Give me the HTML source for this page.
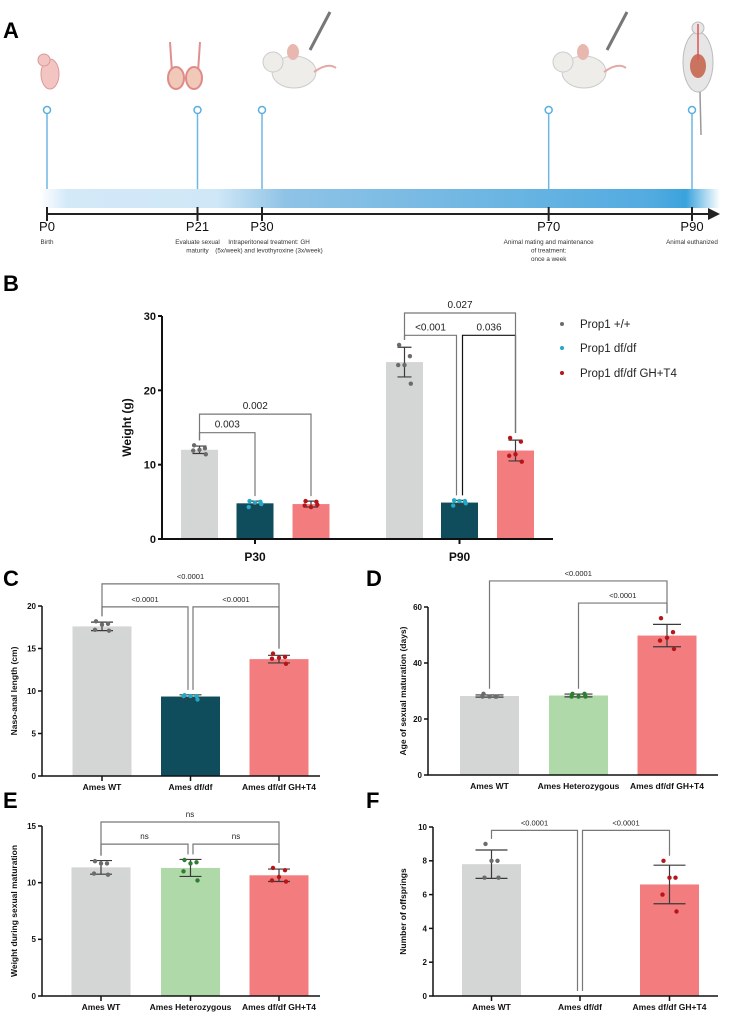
<!DOCTYPE html>
<html><head><meta charset="utf-8">
<style>
html,body{margin:0;padding:0;background:#fff;}
svg{display:block;font-family:"Liberation Sans",Arial,sans-serif;}
.bold{font-weight:bold;}
</style></head>
<body>
<svg id="fig" width="732" height="1014" viewBox="0 0 732 1014" xmlns="http://www.w3.org/2000/svg">
<defs>
<linearGradient id="band" x1="0" x2="1" y1="0" y2="0">
<stop offset="0" stop-color="#ffffff"/>
<stop offset="0.04" stop-color="#d3e9f8"/>
<stop offset="0.26" stop-color="#d0e7f7"/>
<stop offset="0.36" stop-color="#8fc3e6"/>
<stop offset="0.9" stop-color="#52abe0"/>
<stop offset="0.95" stop-color="#3aa2dc"/>
<stop offset="1" stop-color="#ffffff"/>
</linearGradient>
</defs>
<!-- Panel A -->
<g>
<text x="3" y="38" font-size="22" class="bold">A</text>
<rect x="40" y="189" width="680" height="19" fill="url(#band)"/>
<line x1="46" y1="214" x2="712" y2="214" stroke="#222" stroke-width="2"/>
<polygon points="708,208 720,214 708,220" fill="#222"/>
<!-- icons -->
<g><ellipse cx="50" cy="74" rx="9" ry="15" fill="#f2c4c2" stroke="#d99"/><circle cx="44" cy="60" r="6" fill="#f2c4c2" stroke="#d99"/></g>
<g><line x1="170" y1="42" x2="172" y2="72" stroke="#e09090" stroke-width="2"/><line x1="200" y1="42" x2="198" y2="72" stroke="#e09090" stroke-width="2"/><ellipse cx="176" cy="78" rx="8" ry="11" fill="#f0c9b8" stroke="#e08a8a" stroke-width="2"/><ellipse cx="194" cy="78" rx="8" ry="11" fill="#f0c9b8" stroke="#e08a8a" stroke-width="2"/></g>
<g><ellipse cx="294" cy="72" rx="22" ry="16" fill="#efedea" stroke="#ccc"/><circle cx="273" cy="62" r="10" fill="#efedea" stroke="#ccc"/><ellipse cx="293" cy="52" rx="6" ry="8" fill="#e8b8b0"/><path d="M314 72 q14 -10 22 -4" stroke="#e3a9a5" stroke-width="2" fill="none"/><line x1="310" y1="50" x2="330" y2="12" stroke="#777" stroke-width="3"/></g>
<g><ellipse cx="584" cy="72" rx="22" ry="16" fill="#efedea" stroke="#ccc"/><circle cx="563" cy="62" r="10" fill="#efedea" stroke="#ccc"/><ellipse cx="583" cy="52" rx="6" ry="8" fill="#e8b8b0"/><path d="M604 72 q14 -10 22 -4" stroke="#e3a9a5" stroke-width="2" fill="none"/><line x1="607" y1="50" x2="627" y2="12" stroke="#777" stroke-width="3"/></g>
<g><ellipse cx="698" cy="62" rx="15" ry="30" fill="#e6e6e6" stroke="#bbb"/><circle cx="698" cy="28" r="6" fill="#e6e6e6" stroke="#bbb"/><ellipse cx="698" cy="66" rx="8" ry="12" fill="#c8745e"/><line x1="698" y1="24" x2="698" y2="60" stroke="#d55" stroke-width="1.5"/><line x1="700" y1="92" x2="701" y2="135" stroke="#999" stroke-width="1.5"/></g>
</g>
<g id="timeline-points"></g>

<!-- panel letters -->
<text x="3" y="291" font-size="22" class="bold">B</text>
<text x="3" y="586" font-size="22" class="bold">C</text>
<text x="366" y="586" font-size="22" class="bold">D</text>
<text x="3" y="808" font-size="22" class="bold">E</text>
<text x="366" y="808" font-size="22" class="bold">F</text>

<g id="legend-b">
<circle cx="562" cy="324" r="2" fill="#6b6b6b"/>
<text x="580" y="328" font-size="11.5" fill="#222">Prop1 +/+</text>
<circle cx="562" cy="348" r="2" fill="#22a8c8"/>
<text x="580" y="352" font-size="11.5" fill="#222">Prop1 df/df</text>
<circle cx="562" cy="373" r="2" fill="#b5161c"/>
<text x="580" y="377" font-size="11.5" fill="#222">Prop1 df/df GH+T4</text>
</g>
</svg>
<script>
// ===== Timeline data =====
const tlLabels = ['P0','P21','P30','P70','P90'];
const tlDays = [0,21,30,70,90];
const tlNotes = [['Birth'],['Evaluate sexual','maturity'],['Intraperitoneal treatment: GH','(5x/week) and levothyroxine (3x/week)'],['Animal mating and maintenance','of treatment:','once a week'],['Animal euthanized']];
const tlNoteShift = [0,0,7,0,0];

// ===== Panel B data =====
const bCats = ['P30','P90'];
const bMeanWT = [12.0, 23.8];
const bMeanDf = [4.8, 4.9];
const bMeanTr = [4.7, 11.9];
const bSdWT = [0.5, 2.0];
const bSdDf = [0.3, 0.3];
const bSdTr = [0.4, 1.4];
const bPtsWT = [[12.6,12.2,12.0,11.9,11.4],[26.1,24.6,23.4,23.4,20.9]];
const bPtsDf = [[5.1,5.0,4.9,4.3,4.7],[5.2,5.1,5.1,4.5,4.8]];
const bPtsTr = [[5.1,5.0,4.3,4.5,4.6],[13.6,13.1,11.4,11.2,10.4]];
const bTicks = [0,10,20,30];
const bBrLabels = ['0.003','0.002','<0.001','0.036','0.027'];
const bBrHeights = [14.3,16.8,27.4,27.4,30.4];

// ===== Panel C data =====
const cCats = ['Ames WT','Ames df/df','Ames df/df GH+T4'];
const cMeans = [17.6, 9.35, 13.75];
const cSd = [0.5, 0.2, 0.45];
const cPts = [[18.2,17.9,17.8,17.2,17.1],[9.5,9.4,9.4,9.4,9.0],[14.4,14.0,13.9,13.8,13.2]];
const cTicks = [0,5,10,15,20];
const cBrLabels = ['<0.0001','<0.0001','<0.0001'];
const cBrHeights = [19.9,19.9,22.6];

// ===== Panel D data =====
const dCats = ['Ames WT','Ames Heterozygous','Ames df/df GH+T4'];
const dMeans = [28.2, 28.4, 49.8];
const dSd = [0.4, 0.5, 4.0];
const dPts = [[29,28,28,28,28],[29,29,28,28,28],[56,51,49,48,45]];
const dTicks = [0,20,40,60];
const dBrLabels = ['<0.0001','<0.0001'];
const dBrHeights = [61.4,69.3];

// ===== Panel E data =====
const eCats = ['Ames WT','Ames Heterozygous','Ames df/df GH+T4'];
const eMeans = [11.35, 11.3, 10.65];
const eSd = [0.6, 0.75, 0.55];
const ePts = [[11.9,11.7,11.7,10.8,10.7],[12.0,11.8,11.7,11.0,10.2],[11.3,11.1,10.5,10.2,10.1]];
const eTicks = [0,5,10,15];
const eBrLabels = ['ns','ns','ns'];
const eBrHeights = [13.4,13.4,15.35];

// ===== Panel F data =====
const fCats = ['Ames WT','Ames df/df','Ames df/df GH+T4'];
const fMeans = [7.8, 0, 6.6];
const fSd = [0.84, 0, 1.14];
const fPts = [[9,8,8,7,7],[],[8,7,7,6,5]];
const fTicks = [0,2,4,6,8,10];
const fBrLabels = ['<0.0001','<0.0001'];
const fBrHeights = [9.8,9.8];

const NS = 'http://www.w3.org/2000/svg';
const svg = document.getElementById('fig');
function mk(tag, attrs, parent){
  const el = document.createElementNS(NS, tag);
  for (const k in attrs) el.setAttribute(k, attrs[k]);
  (parent||svg).appendChild(el);
  return el;
}
const OFFS = [-6,6,0,-7,7];

// timeline
const tl = document.getElementById('timeline-points');
const tlX = d => 47 + d/90*(692-47);
tlLabels.forEach((lab,i)=>{
  const x = tlX(tlDays[i]);
  const ln = mk('line',{x1:x,y1:114,x2:x,y2:189,stroke:'#6fb6e3','stroke-width':1.5},tl);
  
  
  const c = mk('circle',{cx:x,cy:110,r:3.5,fill:'#fff',stroke:'#5aaee0','stroke-width':1.5},tl);
  
  
  const tk = mk('line',{x1:x,y1:207,x2:x,y2:221,stroke:'#222','stroke-width':2},tl);
  
  
  const t = mk('text',{x:x,y:231,'font-size':13,'text-anchor':'middle',fill:'#111'},tl);
  t.textContent = lab;
  
  
  tlNotes[i].forEach((s,j)=>{
    const n = mk('text',{x:x+tlNoteShift[i],y:244+j*8.5,'font-size':6.3,'text-anchor':'middle',fill:'#333'},tl);
    n.textContent = s;
    
    
  });
});

// generic bar panel
function panel(cfg){
  const g = mk('g',{});
  
  
  const Y = v => cfg.y0 - v/cfg.max*(cfg.y0-cfg.yTop);
  cfg.bars.forEach((b,i)=>{
    const top = Y(b.mean);
    const r = mk('rect',{x:b.cx-cfg.bw/2,y:top,width:cfg.bw,height:cfg.y0-top,fill:b.fill},g);
    
    
  });
  cfg.bars.forEach((b,i)=>{
    if (b.sd>0){
      const lo=Y(b.mean-b.sd), hi=Y(b.mean+b.sd);
      const e = mk('path',{d:`M${b.cx},${lo}V${hi}M${b.cx-cfg.cap},${lo}H${b.cx+cfg.cap}M${b.cx-cfg.cap},${hi}H${b.cx+cfg.cap}`,stroke:'#3a3a3a','stroke-width':1.2,fill:'none'},g);
      
      
    }
    b.pts.forEach((p,j)=>{
      const d = mk('circle',{cx:b.cx+OFFS[j]*cfg.jit,cy:Y(p),r:cfg.pr,fill:b.dot},g);
      
      
    });
  });
  const ax = mk('path',{d:`M${cfg.ax},${cfg.yTop}V${cfg.y0}H${cfg.xEnd}`,stroke:'#111','stroke-width':cfg.aw,fill:'none'},g);
  
  
  cfg.ticks.forEach(t=>{
    const y=Y(t);
    const tk = mk('line',{x1:cfg.ax-4,y1:y,x2:cfg.ax,y2:y,stroke:'#111','stroke-width':cfg.aw},g);
    
    
    const tx = mk('text',{x:cfg.ax-6,y:y+cfg.tf*0.36,'font-size':cfg.tf,'text-anchor':'end','font-weight':'bold',fill:'#111'},g);
    tx.textContent = t;
    
    
  });
  const yt = mk('text',{x:0,y:0,'font-size':cfg.ytf,'font-weight':'bold','text-anchor':'middle',fill:'#111',transform:`translate(${cfg.ytx},${(cfg.y0+cfg.yTop)/2}) rotate(-90)`},g);
  yt.textContent = cfg.ytitle;
  
  
  cfg.xlabels.forEach(l=>{
    if (l.tick){
      const tk = mk('line',{x1:l.x,y1:cfg.y0,x2:l.x,y2:cfg.y0+5,stroke:'#111','stroke-width':cfg.aw},g);
      
      
    }
    const t = mk('text',{x:l.x,y:cfg.y0+cfg.xly,'font-size':cfg.xf,'font-weight':'bold','text-anchor':'middle',fill:'#111'},g);
    t.textContent = l.text;
    
    
  });
  cfg.brackets.forEach(br=>{
    const A=cfg.bars[br.a], B=cfg.bars[br.b];
    const xa=A.cx+(br.oa||0), xb=B.cx+(br.ob||0);
    const top=(b)=>{const m=Math.max(b.mean+b.sd, ...(b.pts.length?b.pts:[0])); return Y(m)-5;};
    const yh=Y(br.h);
    const p = mk('path',{d:`M${xa},${top(A)}V${yh}H${xb}V${top(B)}`,stroke:br.dark?'#111':'#777','stroke-width':1.2,fill:'none'},g);
    
    
    const t = mk('text',{x:(xa+xb)/2,y:yh-5,'font-size':cfg.bf,'text-anchor':'middle',fill:'#222'},g);
    t.textContent = br.label;
    
    
  });
}
const GRAY='#d4d5d5', TEAL='#0f4c5c', RED='#f37c7e', GREEN='#b0d9aa';
const DG='#6b6b6b', DC='#22a8c8', DR='#b5161c', DGR='#2e7d32';

// Panel B
const bCenters=[[199.5,255,311],[404.5,459.5,515.5]];
const bBars=[];
bCats.forEach((c,i)=>{
  bBars.push({id:'wt-'+c.toLowerCase(),cx:bCenters[i][0],mean:bMeanWT[i],sd:bSdWT[i],pts:bPtsWT[i],fill:GRAY,dot:DG});
  bBars.push({id:'dfdf-'+c.toLowerCase(),cx:bCenters[i][1],mean:bMeanDf[i],sd:bSdDf[i],pts:bPtsDf[i],fill:TEAL,dot:DC});
  bBars.push({id:'treated-'+c.toLowerCase(),cx:bCenters[i][2],mean:bMeanTr[i],sd:bSdTr[i],pts:bPtsTr[i],fill:RED,dot:DR});
});
panel({name:'panel-b-weight-chart',y0:539,yTop:316,max:30,ax:162,xEnd:553,bw:37,cap:7,jit:0.9,pr:2.2,aw:2,tf:11,ytf:12,ytx:131,ytitle:'Weight (g)',
  ticks:bTicks,bars:bBars,xly:22,xf:12,bf:10,
  xlabels:bCats.map((c,i)=>({x:bCenters[i][1],text:c,tick:true})),
  brackets:[{a:0,b:1,h:bBrHeights[0],label:bBrLabels[0]},{a:0,b:2,h:bBrHeights[1],label:bBrLabels[1]},
    {a:3,b:4,h:bBrHeights[2],label:bBrLabels[2],ob:-3},{a:4,b:5,h:bBrHeights[3],label:bBrLabels[3],oa:3,dark:true},{a:3,b:5,h:bBrHeights[4],label:bBrLabels[4]}]});

function three(cats,means,sd,pts,fills,dots,centers){
  return cats.map((c,i)=>({id:c.toLowerCase().replace(/[^a-z0-9]+/g,'-'),cx:centers[i],mean:means[i],sd:sd[i],pts:pts[i],fill:fills[i],dot:dots[i]}));
}
const cCenters=[102,190.5,279];
panel({name:'panel-c-naso-anal-length',y0:776,yTop:606,max:20,ax:42,xEnd:320,bw:59,cap:11,jit:1,pr:2.2,aw:1.5,tf:8,ytf:8.5,ytx:17,ytitle:'Naso-anal length (cm)',
  ticks:cTicks,bars:three(cCats,cMeans,cSd,cPts,[GRAY,TEAL,RED],[DG,DC,DR],cCenters),xly:14,xf:8.5,bf:7.5,
  xlabels:cCats.map((c,i)=>({x:cCenters[i],text:c,tick:true})),
  brackets:[{a:0,b:1,h:cBrHeights[0],label:cBrLabels[0],ob:-2.5},{a:1,b:2,h:cBrHeights[1],label:cBrLabels[1],oa:2.5},{a:0,b:2,h:cBrHeights[2],label:cBrLabels[2]}]});
const dCenters=[489.5,578.5,667];
panel({name:'panel-d-age-sexual-maturation',y0:775,yTop:607,max:60,ax:428,xEnd:718,bw:59,cap:14,jit:1,pr:2.2,aw:1.5,tf:8,ytf:8.5,ytx:406,ytitle:'Age of sexual maturation (days)',
  ticks:dTicks,bars:three(dCats,dMeans,dSd,dPts,[GRAY,GREEN,RED],[DG,DGR,DR],dCenters),xly:14,xf:8.5,bf:7.5,
  xlabels:dCats.map((c,i)=>({x:dCenters[i],text:c,tick:false})),
  brackets:[{a:1,b:2,h:dBrHeights[0],label:dBrLabels[0]},{a:0,b:2,h:dBrHeights[1],label:dBrLabels[1]}]});
const eCenters=[101,190.5,279];
panel({name:'panel-e-weight-sexual-maturation',y0:996,yTop:826,max:15,ax:42,xEnd:320,bw:59,cap:11,jit:1,pr:2.2,aw:1.5,tf:8,ytf:8.5,ytx:17,ytitle:'Weight during sexual maturation',
  ticks:eTicks,bars:three(eCats,eMeans,eSd,ePts,[GRAY,GREEN,RED],[DG,DGR,DR],eCenters),xly:14,xf:8.5,bf:8,
  xlabels:eCats.map((c,i)=>({x:eCenters[i],text:c,tick:true})),
  brackets:[{a:0,b:1,h:eBrHeights[0],label:eBrLabels[0],ob:-2.5},{a:1,b:2,h:eBrHeights[1],label:eBrLabels[1],oa:2.5},{a:0,b:2,h:eBrHeights[2],label:eBrLabels[2]}]});
const fCenters=[491.5,580,669.5];
panel({name:'panel-f-number-of-offsprings',y0:996,yTop:827,max:10,ax:433,xEnd:718,bw:59,cap:16,jit:1,pr:2.2,aw:1.5,tf:8,ytf:8.5,ytx:406,ytitle:'Number of offsprings',
  ticks:fTicks,bars:three(fCats,fMeans,fSd,fPts,[GRAY,TEAL,RED],[DG,DC,DR],fCenters),xly:14,xf:8.5,bf:7.5,
  xlabels:fCats.map((c,i)=>({x:fCenters[i],text:c,tick:true})),
  brackets:[{a:0,b:1,h:fBrHeights[0],label:fBrLabels[0],ob:-2.5},{a:1,b:2,h:fBrHeights[1],label:fBrLabels[1],oa:2.5}]});
svg.appendChild(document.getElementById('legend-b'));
</script>
</body></html>
